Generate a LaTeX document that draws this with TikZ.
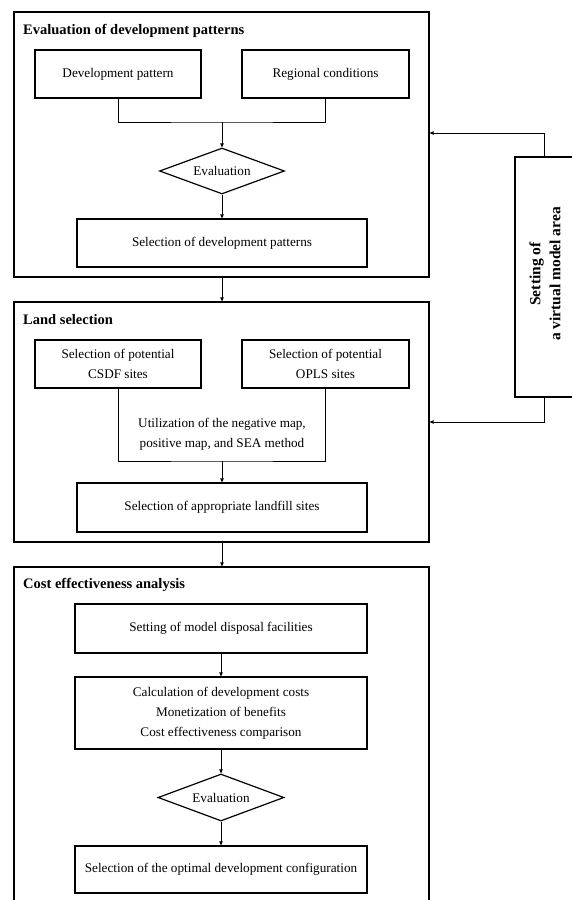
\documentclass[tikz,border=0pt]{standalone}
\usepackage{fontspec}
\setmainfont{Liberation Serif}
\usetikzlibrary{shapes.geometric,arrows.meta}
\begin{document}
\begin{tikzpicture}[x=1pt,y=-1pt,
  every node/.style={font=\fontsize{13.2}{20}\selectfont, inner sep=0pt},
  outer/.style={draw, line width=1.2pt, rectangle, minimum width=415pt},
  stepbox/.style={draw, line width=1.2pt, rectangle, align=center},
  evalbox/.style={draw, line width=1.2pt, diamond, shape aspect=2.7, minimum width=125pt, minimum height=46pt},
  ttl/.style={anchor=west, font=\fontsize{14.5}{20}\selectfont\bfseries},
  arr/.style={line width=0.9pt, -{Triangle[length=4pt,width=3.5pt]}},
  ln/.style={line width=0.9pt}]
\useasboundingbox (0,0) rectangle (572,900);
% frames
\node[outer, minimum height=265pt] (b1) at (221.5,144.5) {};
\node[outer, minimum height=240pt] (b2) at (221.5,422) {};
\node[outer, minimum height=338pt] (b3) at (221.5,736) {};
\node[ttl] (t1) at (23,31) {Evaluation of development patterns};
\node[ttl] (t2) at (23,320) {Land selection};
\node[ttl] (t3) at (23,585) {Cost effectiveness analysis};
% block 1
\node[stepbox, minimum width=166pt, minimum height=48pt] (dp) at (118,74) {Development pattern};
\node[stepbox, minimum width=167pt, minimum height=48pt] (rc) at (325.5,74) {Regional conditions};
\coordinate (j1) at (222,122);
\node[evalbox] (ev1) at (222,171) {Evaluation};
\node[stepbox, minimum width=290pt, minimum height=48pt] (sel1) at (222,243) {Selection of development patterns};
\draw[ln] (dp.south) |- (j1) -| (rc.south);
\draw[arr] (j1) -- (ev1.north);
\draw[arr] (ev1.south) -- (sel1.north);
% block 2
\node[stepbox, minimum width=166pt, minimum height=48pt] (csdf) at (118,364) {Selection of potential\\CSDF sites};
\node[stepbox, minimum width=167pt, minimum height=48pt] (opls) at (325.5,364) {Selection of potential\\OPLS sites};
\node[align=center] (util) at (222,434.5) {Utilization of the negative map,\\positive map, and SEA method};
\coordinate (ub) at (222,461);
\node[stepbox, minimum width=290pt, minimum height=49pt] (land) at (222,507.5) {Selection of appropriate landfill sites};
\draw[ln] (csdf.south) |- (ub) -| (opls.south);
\draw[arr] (ub) -- (land.north);
% block 3
\node[stepbox, minimum width=292pt, minimum height=49pt] (smd) at (221,628.5) {Setting of model disposal facilities};
\node[stepbox, minimum width=292pt, minimum height=72pt] (calc) at (221,713) {Calculation of development costs\\Monetization of benefits\\Cost effectiveness comparison};
\node[evalbox, minimum width=126pt, minimum height=47pt] (ev2) at (221,797.5) {Evaluation};
\node[stepbox, minimum width=292pt, minimum height=47pt] (opt) at (221,869.5) {Selection of the optimal development configuration};
\draw[arr] (smd.south) -- (calc.north);
\draw[arr] (calc.south) -- (ev2.north);
\draw[arr] (ev2.south) -- (opt.north);
% between blocks
\draw[arr] (b1.south -| sel1.south) -- (b2.north -| sel1.south);
\draw[arr] (b2.south -| land.south) -- (b3.north -| land.south);
% virtual model area
\node[stepbox, minimum width=58pt, minimum height=240pt] (vm) at (544,277) {};
\node[rotate=90, align=center, font=\fontsize{15.5}{20}\selectfont\bfseries] (vmt) at (545,274) {Setting of\\a virtual model area};
\coordinate (c1) at (544,133);
\coordinate (c2) at (544,422);
\draw[arr] (vm.north) -- (c1) -- (b1.east |- c1);
\draw[arr] (vm.south) -- (c2) -- (b2.east |- c2);
\end{tikzpicture}
\end{document}
